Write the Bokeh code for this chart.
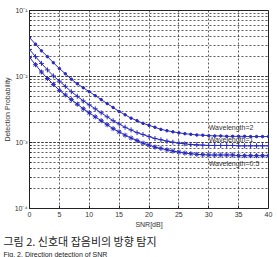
from bokeh.plotting import figure
from bokeh.models import (ColumnDataSource, Label, LogTicker, FixedTicker,
                          CustomJSTickFormatter, Range1d, Title)
from bokeh.embed import file_html
from bokeh.resources import INLINE

# ---- data ----
snr = list(range(0, 41))
pd_wl2 = [0.0389, 0.0309, 0.0245, 0.0200, 0.0162, 0.0132, 0.0110, 0.00912, 0.00776, 0.00676,
          0.00589, 0.00513, 0.00447, 0.00389, 0.00339, 0.00295, 0.00263, 0.00234, 0.00214, 0.00195,
          0.00182, 0.00170, 0.00158, 0.00151, 0.00145, 0.00140, 0.00136, 0.00133, 0.00130, 0.00129,
          0.00127, 0.00126, 0.00126, 0.00124, 0.00124, 0.00124, 0.00124, 0.00123, 0.00123, 0.00123,
          0.00123]
pd_wl1 = [0.0257, 0.0200, 0.0158, 0.0126, 0.0102, 0.00851, 0.00708, 0.00589, 0.00501, 0.00427,
          0.00372, 0.00324, 0.00282, 0.00245, 0.00214, 0.00191, 0.00170, 0.00155, 0.00141, 0.00132,
          0.00123, 0.00115, 0.00110, 0.00105, 0.00101, 0.000977, 0.000955, 0.000933, 0.000923, 0.000912,
          0.000902, 0.000902, 0.000902, 0.000902, 0.000902, 0.000891, 0.000891, 0.000891, 0.000891, 0.000891,
          0.000891]
pd_wl05 = [0.0195, 0.0151, 0.0117, 0.00933, 0.00759, 0.00617, 0.00525, 0.00447, 0.00380, 0.00324,
           0.00282, 0.00245, 0.00214, 0.00186, 0.00162, 0.00145, 0.00129, 0.00117, 0.00107, 0.000977,
           0.000912, 0.000851, 0.000813, 0.000776, 0.000741, 0.000716, 0.000692, 0.000676, 0.000661, 0.000653,
           0.000646, 0.000646, 0.000646, 0.000646, 0.000646, 0.000631, 0.000631, 0.000631, 0.000631, 0.000631,
           0.000631]
series_names = ["Wavelength=2", "Wavelength=1", "Wavelength=0.5"]
label_pos = [(30, 0.00148), (30, 0.00098), (30, 0.00042)]
x_ticks = [0, 5, 10, 15, 20, 25, 30, 35, 40]
y_tick_labels = ["10\u207b\u2074", "10\u207b\u00b3", "10\u207b\u00b2", "10\u207b\u00b9"]
x_label = "SNR[dB]"
y_label = "Detection Probability"
caption = "그림 2. 신호대 잡음비의 방향 탐지"
caption_en = "Fig. 2. Direction detection of SNR"

BLUE = "#2a2ac0"
FONT = "Liberation Sans"
LEFT = 27

p = figure(width=277, height=257, y_axis_type="log",
           x_range=Range1d(0, 40), y_range=Range1d(1e-4, 1e-1),
           output_backend="svg", toolbar_location=None,
           min_border_left=LEFT, min_border_right=9, min_border_top=10, min_border_bottom=0)
p.background_fill_color = "white"
p.border_fill_color = "white"
p.outline_line_color = "#222222"
p.outline_line_width = 1

src = ColumnDataSource(dict(x=snr, a=pd_wl2, b=pd_wl1, c=pd_wl05))
p.line("x", "a", source=src, line_color=BLUE, line_width=1)
p.scatter("x", "a", source=src, marker="circle", size=2.5, color=BLUE)
p.line("x", "b", source=src, line_color=BLUE, line_width=1)
p.scatter("x", "b", source=src, marker="cross", size=5, line_color=BLUE, line_width=1)
p.line("x", "c", source=src, line_color=BLUE, line_width=1)
p.scatter("x", "c", source=src, marker="asterisk", size=5, line_color=BLUE, line_width=1)

for name, (lx, ly) in zip(series_names, label_pos):
    p.add_layout(Label(x=lx, y=ly, text=name, text_font=FONT, text_font_size="7px",
                       text_color="#333333"))

# axes
p.xaxis.ticker = FixedTicker(ticks=x_ticks)
p.yaxis.ticker = LogTicker(num_minor_ticks=10)
p.yaxis.formatter = CustomJSTickFormatter(args=dict(labels=y_tick_labels), code="""
    const e = Math.round(Math.log10(tick));
    return labels[e + 4];
""")
for ax in (p.xaxis[0], p.yaxis[0]):
    ax.axis_line_color = None
    ax.major_tick_in = 3
    ax.major_tick_out = 0
    ax.minor_tick_in = 0
    ax.minor_tick_out = 0
    ax.major_tick_line_color = "#222222"
    ax.major_label_text_font = FONT
    ax.major_label_text_font_size = "7px"
    ax.major_label_text_color = "#333333"
    ax.axis_label_text_font = FONT
    ax.axis_label_text_font_size = "7px"
    ax.axis_label_text_font_style = "normal"
    ax.axis_label_text_color = "#333333"
p.yaxis.minor_tick_in = 2
p.yaxis.minor_tick_line_color = "#222222"
p.xaxis.axis_label = x_label
p.yaxis.axis_label = y_label
p.xaxis.major_label_standoff = 3
p.xaxis.axis_label_standoff = 1
p.yaxis.major_label_standoff = 2
p.yaxis.axis_label_standoff = 1

# grid
p.xgrid.grid_line_color = "#333333"
p.xgrid.grid_line_dash = "2 2"
p.xgrid.grid_line_width = 0.8
p.ygrid.grid_line_color = "#333333"
p.ygrid.grid_line_dash = "2 2"
p.ygrid.grid_line_width = 0.8
p.ygrid.minor_grid_line_color = "#333333"
p.ygrid.minor_grid_line_dash = "2 2"
p.ygrid.minor_grid_line_width = 0.8

# captions below the chart
p.add_layout(Title(text=caption, text_font="Noto Sans CJK KR", text_font_size="11px",
                   text_font_style="normal", text_color="#222222", align="left",
                   offset=-LEFT + 1, standoff=0), "below")
p.add_layout(Title(text=caption_en, text_font=FONT, text_font_size="7px",
                   text_font_style="normal", text_color="#222222", align="left",
                   offset=-LEFT + 1, standoff=0), "below")

open("out.html", "w").write(file_html(p, INLINE))
